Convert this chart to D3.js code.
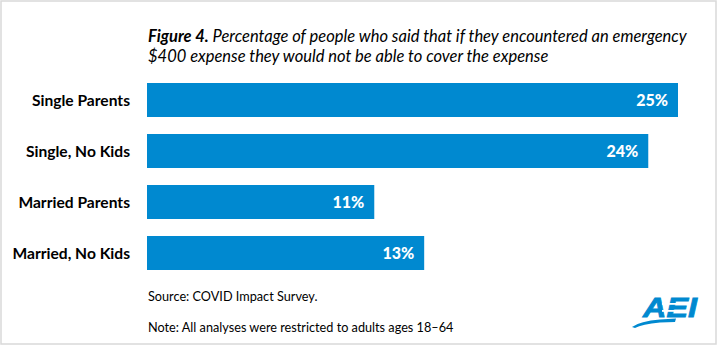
<!DOCTYPE html>
<html><head><meta charset="utf-8">
<script src="https://cdn.jsdelivr.net/npm/d3@7"></script>
<style>body{margin:0;background:#fff;} svg{display:block;}</style>
</head><body>
<script>
const categories = ["Single Parents", "Single, No Kids", "Married Parents", "Married, No Kids"];
const values = [25.0, 23.6, 10.7, 13.05];
const titleBold = "Figure 4.";
const titleLine1 = " Percentage of people who said that if they encountered an emergency";
const titleLine2 = "$400 expense they would not be able to cover the expense";
const sourceText = "Source: COVID Impact Survey.";
const noteText = "Note: All analyses were restricted to adults ages 18\u201364";

const W = 719, H = 347;
const font = "Lato, 'Open Sans', sans-serif";
const svg = d3.select("body").append("svg").attr("width", W).attr("height", H);

svg.append("rect").attr("x", 1).attr("y", 1).attr("width", 715).attr("height", 343)
  .attr("fill", "#fff").attr("stroke", "#d9d9d9").attr("stroke-width", 1.5);

const x = d3.scaleLinear().domain([0, 25]).range([147, 678]);
const y = d3.scaleBand().domain(categories).range([83, 270]).paddingInner(1 / 3).paddingOuter(0);

const t = svg.append("text").attr("x", 148).attr("y", 42).attr("font-family", font)
  .attr("font-size", 16.5).attr("font-style", "italic").attr("fill", "#000");
t.append("tspan").attr("font-weight", "bold").text(titleBold);
t.append("tspan").text(titleLine1);
svg.append("text").attr("x", 148).attr("y", 62).attr("font-family", font)
  .attr("font-size", 16.5).attr("font-style", "italic").attr("fill", "#000").text(titleLine2);

svg.selectAll("rect.bar").data(values).join("rect").attr("class", "bar")
  .attr("x", x(0)).attr("y", (d, i) => y(categories[i]))
  .attr("width", d => x(d) - x(0)).attr("height", y.bandwidth())
  .attr("fill", "#0089d0");

const fmt = d => d3.format(".0f")(d) + "%";
svg.selectAll("text.val").data(values).join("text").attr("class", "val")
  .attr("x", d => x(d) - 10).attr("y", (d, i) => y(categories[i]) + y.bandwidth() / 2)
  .attr("dy", "0.36em").attr("text-anchor", "end").attr("font-family", font)
  .attr("font-weight", 900).attr("font-size", 16).attr("fill", "#fff").text(fmt);

const yAxis = d3.axisLeft(y).tickSize(0).tickPadding(0);
const ga = svg.append("g").attr("transform", "translate(130,0)").call(yAxis);
ga.select(".domain").remove();
ga.selectAll("text").attr("font-family", font).attr("font-weight", "bold")
  .attr("font-size", 15.6).attr("fill", "#000").attr("dy", "0.36em");

svg.append("text").attr("x", 148).attr("y", 301).attr("font-family", font)
  .attr("font-size", 12.7).attr("fill", "#000").text(sourceText);
svg.append("text").attr("x", 148).attr("y", 332).attr("font-family", font)
  .attr("font-size", 12.7).attr("fill", "#000").text(noteText);

// AEI logo
const logo = svg.append("g");
logo.append("text").attr("x", 643).attr("y", 317).attr("font-family", "'Liberation Sans', Arial, sans-serif")
  .attr("font-weight", "bold").attr("font-style", "italic").attr("font-size", 28)
  .attr("textLength", 54).attr("lengthAdjust", "spacingAndGlyphs")
  .attr("stroke", "#0089d0").attr("stroke-width", 0.8)
  .attr("fill", "#0089d0").text("AEI");
logo.append("path").attr("d", "M632,327 Q640,321 660,319.5 L676,318.5 L675,322 L660,322.5 Q642,324 635,328 Z").attr("fill", "#0089d0");
[303, 310].forEach(yy => logo.append("rect").attr("x", 662).attr("y", yy).attr("width", 22).attr("height", 1.8).attr("fill", "#fff"));
</script>
</body></html>
